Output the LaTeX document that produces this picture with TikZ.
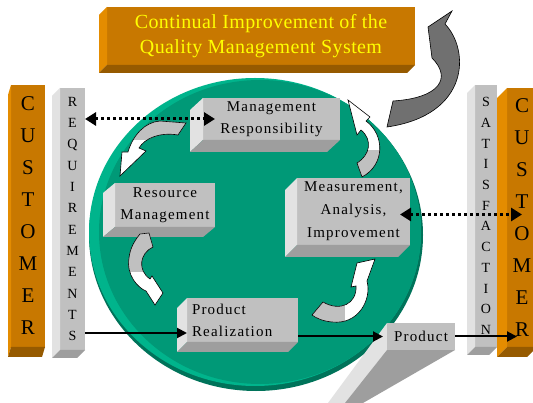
\documentclass[tikz,border=0pt]{standalone}
\usepackage{fontspec}
\setmainfont{Liberation Serif}
\newfontfamily\boxfont[LetterSpace=8]{Liberation Serif}
\newfontfamily\ttlfont[LetterSpace=2]{Liberation Serif}
\usetikzlibrary{arrows.meta,calc}
\definecolor{orng}{RGB}{200,120,0}
\definecolor{orngL}{RGB}{228,140,0}
\definecolor{orngD}{RGB}{150,90,0}
\definecolor{grnC}{RGB}{0,153,119}
\definecolor{grnL}{RGB}{0,180,140}
\definecolor{grnD}{RGB}{0,115,90}
\definecolor{gF}{RGB}{192,192,192}
\definecolor{gL}{RGB}{226,226,226}
\definecolor{gD}{RGB}{158,158,158}
\definecolor{ttl}{RGB}{255,255,0}
\definecolor{bigG}{RGB}{112,112,112}
\newcommand\bev[5]{%
 \fill[#4] (#1.north west) -- (#1.south west) -- ++(-#2,#3) -- ($(#1.north west)+(-#2,#3)$) -- cycle;
 \fill[#5] (#1.south west) -- (#1.south east) -- ++(-#2,#3) -- ($(#1.south west)+(-#2,#3)$) -- cycle;}
\begin{document}
\begin{tikzpicture}[x=1pt,y=-1pt,
 gface/.style={fill=gF, inner sep=0pt, outer sep=0pt, align=center, font=\boxfont\fontsize{15}{22}\selectfont},
 oface/.style={fill=orng, inner sep=0pt, outer sep=0pt, align=center},
 vbar/.style={inner sep=0pt, outer sep=0pt, align=center},
 dotarr/.style={line width=3pt, dash pattern=on 3pt off 3pt, {Triangle[length=11pt,width=13pt]}-{Triangle[length=11pt,width=13pt]}},
 solarr/.style={line width=2pt, -{Triangle[length=10pt,width=10pt]}},
 ribbon/.style={draw=black, line width=0.6pt}]
\clip (0,0) rectangle (533,403);
\fill[white] (0,0) rectangle (533,403);
% circle
\fill[grnD] (256,235) ellipse [x radius=167, y radius=156];
\fill[grnL] (255,232) ellipse [x radius=166, y radius=154];
\fill[grnC] (260,232) ellipse [x radius=161, y radius=152];
% title
\node[oface, minimum width=308, minimum height=58, font=\ttlfont\fontsize{20}{25}\selectfont, text=ttl] (title) at (261,36) {Continual Improvement of the\\Quality Management System};
\bev{title}{8}{8}{orngL}{orngD}
% bars
\node[vbar, fill=orng, minimum width=34, minimum height=262, font=\fontsize{21}{32}\selectfont] (cusL) at (28,216) {C\\U\\S\\T\\O\\M\\E\\R};
\bev{cusL}{3}{10}{orngL}{orngD}
\node[vbar, fill=gF, minimum width=25, minimum height=262, font=\fontsize{14}{21.3}\selectfont] (req) at (72.5,219) {R\\E\\Q\\U\\I\\R\\E\\M\\E\\N\\T\\S};
\bev{req}{8}{8}{gL}{gD}
\node[vbar, fill=gF, minimum width=22, minimum height=262, font=\fontsize{14}{20.7}\selectfont] (sat) at (486,216) {S\\A\\T\\I\\S\\F\\A\\C\\T\\I\\O\\N};
\bev{sat}{8}{8}{gL}{gD}
\node[vbar, fill=orng, minimum width=30, minimum height=259, font=\fontsize{21}{32}\selectfont] (cusR) at (522,217.5) {C\\U\\S\\T\\O\\M\\E\\R};
\bev{cusR}{10}{10}{orngL}{orngD}
% big grey arrow
\draw[fill=bigG, line width=0.6pt] (452,11) -- (445,24) .. controls (470,50) and (470,115) .. (387,127) -- (393,101) .. controls (440,98) and (452,78) .. (432,58) -- (428,27) -- cycle;
% boxes
\node[gface, minimum width=137, minimum height=42] (mr) at (271.5,119) {Management\\Responsibility};
\bev{mr}{13}{12}{gL}{gD}
\node[gface, minimum width=100, minimum height=44] (rm) at (165,205) {Resource\\Management};
\bev{rm}{12}{10}{gL}{gD}
\node[gface, minimum width=113, minimum height=67, font=\boxfont\fontsize{15}{23}\selectfont] (mai) at (353.5,211.5) {Measurement,\\Analysis,\\Improvement};
\bev{mai}{12}{12}{gL}{gD}
\node[gface, align=left, text width=101pt, inner xsep=5pt, minimum height=44] (pr) at (242.5,320) {Product\\Realization};
\bev{pr}{10}{10}{gL}{gD}
% product wedge
\fill[gL] (387,323) -- (387,350) -- (345,403) -- (328,403) -- cycle;
\fill[gD] (387,350) -- (455,350) -- (363,403) -- (345,403) -- cycle;
\node[gface, minimum width=68, minimum height=27] (prod) at (421,336.5) {Product};
% ribbons
\path[save path=\pA] (186,123) -- (178,135) .. controls (160,132) and (145,138) .. (139,148) -- (146,151) -- (120,176) -- (122,152) -- (128,152) .. controls (133,135) and (145,122) .. (160,121) -- cycle;
\path[save path=\pB] (140,234) -- (149,233) -- (153,247) .. controls (140,253) and (137,270) .. (150,279) -- (152,276) -- (163,293) -- (155,305) -- (146,291) .. controls (138,288) and (126,275) .. (129,258) .. controls (130,248) and (135,240) .. (140,234) -- cycle;
\path[save path=\pC] (312,315) -- (323,302) .. controls (340,312) and (357,304) .. (356,286) -- (351,287) -- (357,263) -- (375,259) -- (367,281) .. controls (372,300) and (358,325) .. (332,322) .. controls (322,321) and (316,318) .. (312,315) -- cycle;
\path[save path=\pD] (362,177) -- (357,163) .. controls (370,155) and (373,140) .. (361,130) -- (357,135) -- (348,100) -- (370,117) -- (366,121) .. controls (385,135) and (385,165) .. (362,177) -- cycle;
\fill[white, use path=\pA]; \fill[white, use path=\pB]; \fill[white, use path=\pC]; \fill[white, use path=\pD];
\begin{scope}\path[clip, use path=\pA]; \fill[gF] (100,100) rectangle (200,140);\end{scope}
\begin{scope}\path[clip, use path=\pB]; \fill[gF] (100,220) rectangle (200,272);\end{scope}
\begin{scope}\path[clip, use path=\pC]; \fill[gF] (300,290) rectangle (345,340);\end{scope}
\begin{scope}\path[clip, use path=\pD]; \fill[gF] (340,150) rectangle (400,190);\end{scope}
\draw[ribbon, use path=\pA]; \draw[ribbon, use path=\pB]; \draw[ribbon, use path=\pC]; \draw[ribbon, use path=\pD];
% connectors
\draw[dotarr] (req.east |- mr.west) -- ([xshift=12pt]mr.west);
\draw[dotarr] ([xshift=-10pt,yshift=-3pt]mai.east) -- ([yshift=-3pt]mai.east -| cusR.center);
\draw[solarr] ([yshift=-13pt]pr.west -| req.east) -- ([yshift=-13pt]pr.west);
\draw[solarr] (pr.east |- prod.west) -- ([xshift=-4pt]prod.west);
\draw[solarr] (prod.east) -- ([xshift=-5pt]prod.east -| cusR.center);
\end{tikzpicture}
\end{document}
